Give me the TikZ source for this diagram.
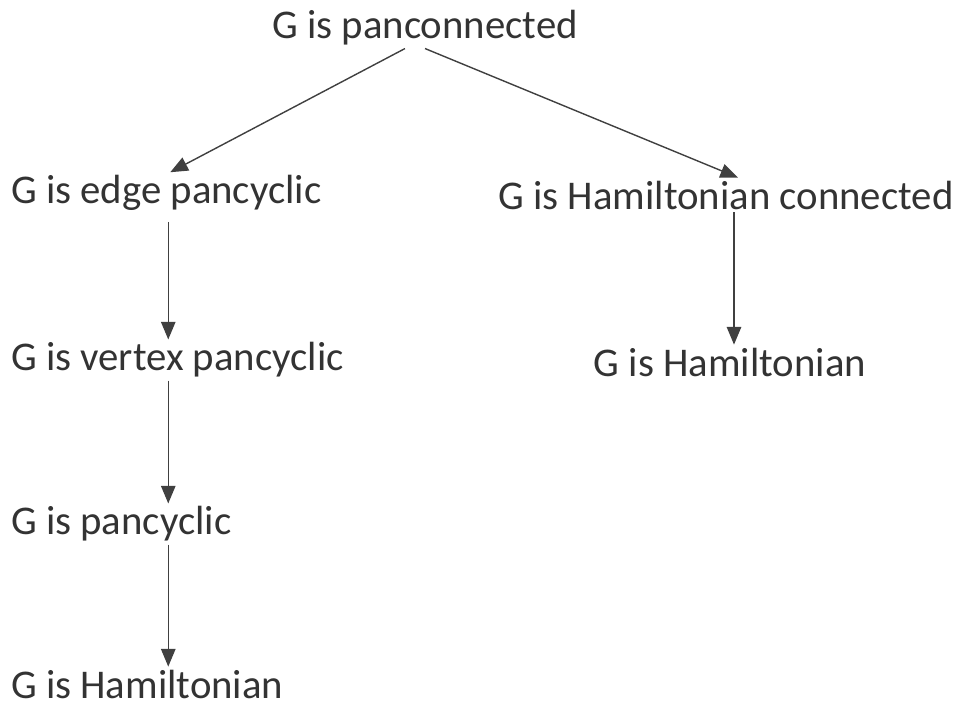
\documentclass[tikz,border=0pt]{standalone}
\usepackage{fontspec}
\setmainfont{Carlito}
\usepackage{xcolor}
\usetikzlibrary{arrows.meta, positioning}

\begin{document}
\begin{tikzpicture}[
    x=0.025cm, y=-0.025cm,
    prop/.style={inner sep=2pt, text=black!80, font=\fontsize{29}{34}\selectfont},
    arrow/.style={-{Triangle[length=4.4mm, width=3.6mm]}, line width=1pt, black!75}
]
\useasboundingbox (0,0) rectangle (968,708);

% top
\node[prop] (pancon) at (425,28) {G is panconnected};

% left column
\node[prop, anchor=west] (edgepan) at (8,193) {G is edge pancyclic};
\node[prop, anchor=west] (vertpan) at (8,360) {G is vertex pancyclic};
\node[prop, anchor=west] (pancyc) at (8,524) {G is pancyclic};
\node[prop, anchor=west] (hamleft) at (8,684) {G is Hamiltonian};

% right column
\node[prop] (hamcon) at (726,195) {G is Hamiltonian connected};
\node[prop] (hamright) at (730,362) {G is Hamiltonian};

% arrows
\coordinate (leftcol) at ([xshift=0.05cm]edgepan.south);
\draw[arrow] ([xshift=-0.5cm]pancon.south) -- ([xshift=0.1cm]edgepan.north);
\draw[arrow] (pancon.south) -- ([xshift=0.3cm]hamcon.north);
\draw[arrow] ([yshift=-0.2cm]leftcol) -- (leftcol |- vertpan.north);
\draw[arrow] (vertpan.south -| leftcol) -- (leftcol |- pancyc.north);
\draw[arrow] (pancyc.south -| leftcol) -- (leftcol |- hamleft.north);
\draw[arrow] ([xshift=0.2cm]hamcon.south) -- ([xshift=0.2cm]hamcon.south |- hamright.north);

\end{tikzpicture}
\end{document}
